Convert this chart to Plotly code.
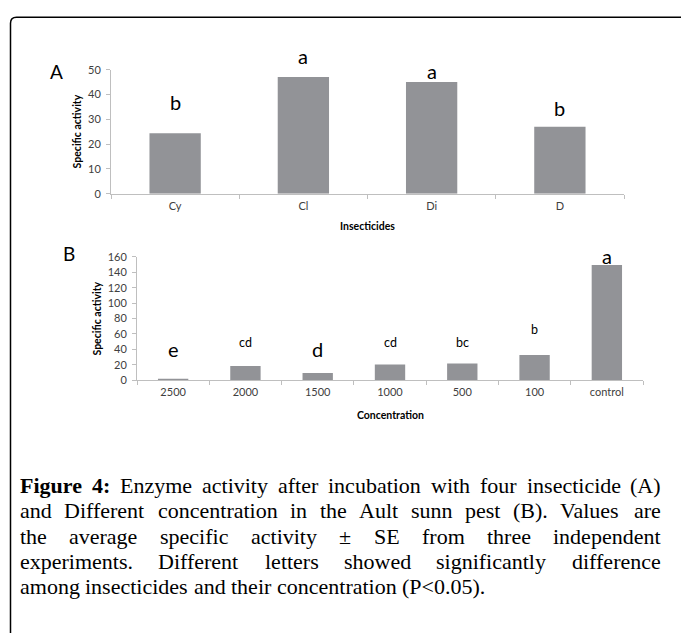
import plotly.graph_objects as go

# ---------------- data ----------------
insecticides = ["Cy", "Cl", "Di", "D"]
activity_a = [24.4, 47.1, 45.0, 27.0]
letters_a = ["b", "a", "a", "b"]
letter_y_a = [37.0, 55.5, 49.5, 34.5]

concentrations = ["2500", "2000", "1500", "1000", "500", "100", "control"]
activity_b = [2.0, 18.5, 9.5, 20.3, 21.8, 32.8, 149.5]
letters_b = ["e", "cd", "d", "cd", "bc", "b", "a"]
letter_y_b = [40.6, 49.0, 40.0, 49.0, 49.0, 66.0, 161.0]
letter_big_b = [True, False, True, False, False, False, True]

caption_lines = [
    "Figure 4: Enzyme activity after incubation with four insecticide (A)",
    "and Different concentration in the Ault sunn pest (B). Values are",
    "the average specific activity \u00b1 SE from three independent",
    "experiments. Different letters showed significantly difference",
    "among insecticides and their concentration (P<0.05).",
]

# ---------------- layout helpers ----------------
W, H = 681, 639
def px(x):
    return x / W
def py(y):
    return 1 - y / H

CHART_FONT = "Lato"
BAR_COLOR = "#929397"
AXIS_COLOR = "#BFBFBF"
TICK_COLOR = "#404040"

# panel geometry (pixels)
A_X0, A_X1, A_Y0, A_Y1, A_MAX = 111, 624, 190.7, 64, 50
B_X0, B_X1, B_Y0, B_Y1, B_MAX = 137, 643, 381, 255, 160

fig = go.Figure()
fig.add_trace(go.Bar(x=insecticides, y=activity_a, width=0.4,
                     marker=dict(color=BAR_COLOR, line=dict(width=0)),
                     xaxis="x", yaxis="y", showlegend=False, hoverinfo="x+y"))
fig.add_trace(go.Bar(x=concentrations, y=activity_b, width=0.42,
                     marker=dict(color=BAR_COLOR, line=dict(width=0)),
                     xaxis="x2", yaxis="y2", showlegend=False, hoverinfo="x+y"))

common_x = dict(type="category", tickson="boundaries", ticks="outside", ticklen=4,
                tickcolor=AXIS_COLOR, showline=True, linecolor=AXIS_COLOR, linewidth=1,
                showgrid=False, zeroline=False, ticklabelstandoff=2,
                tickfont=dict(family=CHART_FONT, size=11, color=TICK_COLOR))
common_y = dict(ticks="outside", ticklen=4, tickcolor=AXIS_COLOR, showline=True,
                linecolor=AXIS_COLOR, linewidth=1, showgrid=False, zeroline=False,
                ticklabelstandoff=3,
                tickfont=dict(family=CHART_FONT, size=11, color=TICK_COLOR))

fig.update_layout(
    width=W, height=H,
    margin=dict(l=0, r=0, t=0, b=0),
    paper_bgcolor="white", plot_bgcolor="white",
    xaxis=dict(domain=[px(A_X0), px(A_X1)], anchor="y", range=[-0.5, 3.5], **common_x),
    yaxis=dict(domain=[py(A_Y0), py(A_Y1)], anchor="x", range=[0, A_MAX], dtick=10, **common_y),
    xaxis2=dict(domain=[px(B_X0), px(B_X1)], anchor="y2", range=[-0.5, 6.5], **common_x),
    yaxis2=dict(domain=[py(B_Y0), py(B_Y1)], anchor="x2", range=[0, B_MAX], dtick=20, **common_y),
)

ann = []

def letter(i, yv, text, xref, yref, ymax, pix_per_unit, size):
    # keep reference point inside the axis range; push above it with a pixel shift
    yref_val = min(yv, ymax)
    shift = (yv - yref_val) * pix_per_unit
    return dict(x=i, y=yref_val, xref=xref, yref=yref, text=text, showarrow=False,
                xanchor="center", yanchor="middle", yshift=shift,
                font=dict(family=CHART_FONT, size=size, color="black"))

a_ppu = (A_Y0 - A_Y1) / A_MAX
b_ppu = (B_Y0 - B_Y1) / B_MAX
for i, (l, yv) in enumerate(zip(letters_a, letter_y_a)):
    ann.append(letter(i, yv, l, "x", "y", A_MAX, a_ppu, 20))
for i, (l, yv, big) in enumerate(zip(letters_b, letter_y_b, letter_big_b)):
    ann.append(letter(i, yv, l, "x2", "y2", B_MAX, b_ppu, 20 if big else 12.5))

def paper_text(x, y, text, size, angle=0):
    return dict(x=px(x), y=py(y), xref="paper", yref="paper", text=text, showarrow=False,
                xanchor="center", yanchor="middle", textangle=angle,
                font=dict(family=CHART_FONT, size=size, color="black"))

# panel letters
ann.append(paper_text(56, 66, "A", 19))
ann.append(paper_text(69, 252, "B", 19))

# axis titles
ann.append(paper_text(77, 127, "<b>Specific activity</b>", 10.5, -90))
ann.append(paper_text(97, 318, "<b>Specific activity</b>", 10.5, -90))
ann.append(paper_text(367.5, 224, "<b>Insecticides</b>", 10.5))
ann.append(paper_text(390, 416, "<b>Concentration</b>", 10.5))

# ---------------- caption (justified, Times metrics = Liberation Serif) ----------------
REG = {' ': 250, '!': 333, '(': 333, ')': 333, ',': 250, '-': 333, '.': 250, ':': 278,
       '<': 564, '\u00b1': 564}
for d in "0123456789":
    REG[d] = 500
REG.update(dict(A=722, B=667, C=667, D=722, E=611, F=556, G=722, H=722, I=333, J=389,
                K=722, L=611, M=889, N=722, O=722, P=556, Q=722, R=667, S=556, T=611,
                U=722, V=722, W=944, X=722, Y=722, Z=611))
REG.update(dict(a=444, b=500, c=444, d=500, e=444, f=333, g=500, h=500, i=278, j=278,
                k=500, l=278, m=778, n=500, o=500, p=500, q=500, r=333, s=389, t=278,
                u=500, v=500, w=722, x=500, y=500, z=444))
BOLD = {'F': 611, 'i': 278, 'g': 500, 'u': 556, 'r': 444, 'e': 444, '4': 500, ':': 333}

CAP_FONT = "Liberation Serif"
CAP_SIZE = 22
CAP_LEFT, CAP_RIGHT = 20, 661
CAP_Y0, CAP_DY = 488, 26

def wwidth(word, bold):
    tbl = BOLD if bold else REG
    return sum(tbl.get(ch, 500) for ch in word) / 1000 * CAP_SIZE

for li, line in enumerate(caption_lines):
    words = line.split(" ")
    bolds = [li == 0 and wi < 2 for wi in range(len(words))]
    widths = [wwidth(w, b) for w, b in zip(words, bolds)]
    natural_gap = REG[' '] / 1000 * CAP_SIZE
    if li < len(caption_lines) - 1:
        gap = (CAP_RIGHT - CAP_LEFT - sum(widths)) / (len(words) - 1)
    else:
        gap = natural_gap
    xcur = CAP_LEFT
    yline = CAP_Y0 + li * CAP_DY
    for w, b, wd in zip(words, bolds, widths):
        ann.append(dict(x=px(xcur), y=py(yline), xref="paper", yref="paper",
                        text=f"<b>{w}</b>" if b else w, showarrow=False,
                        xanchor="left", yanchor="middle", borderpad=0, borderwidth=0,
                        font=dict(family=CAP_FONT, size=CAP_SIZE, color="black")))
        xcur += wd + gap

fig.update_layout(annotations=ann)

# frame: rounded top-left corner, open to the right and bottom
r = 6
fig.add_shape(type="path", xref="paper", yref="paper",
              path=(f"M 1.0,{py(10.5)} L {px(10.5 + r)},{py(10.5)} "
                    f"Q {px(10.5)},{py(10.5)} {px(10.5)},{py(10.5 + r)} L {px(10.5)},0.0"),
              line=dict(color="black", width=1.5))

fig.write_html("out.html", config=dict(displayModeBar=False),
               post_script="document.body.style.margin='0px';document.body.style.overflow='hidden';")
